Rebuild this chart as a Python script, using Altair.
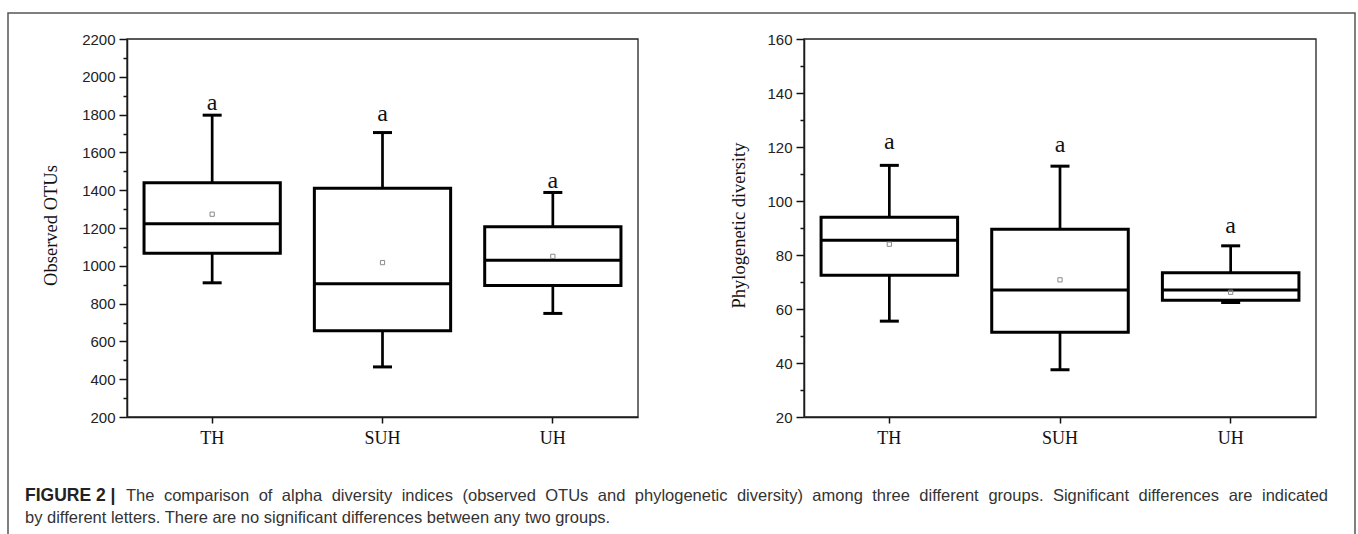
import altair as alt
import pandas as pd

groups = ["TH", "SUH", "UH"]
letters = ["a", "a", "a"]

# Observed OTUs (box statistics per group)
otu_low = [910, 465, 748]
otu_q1 = [1067, 656, 896]
otu_median = [1222, 905, 1030]
otu_q3 = [1440, 1410, 1207]
otu_high = [1797, 1705, 1388]
otu_mean = [1273, 1017, 1050]
otu_letter_at = [1860, 1805, 1450]

# Phylogenetic diversity (box statistics per group)
pdiv_low = [55.5, 37.5, 62.4]
pdiv_q1 = [72.5, 51.4, 63.2]
pdiv_median = [85.5, 67.0, 67.0]
pdiv_q3 = [94.0, 89.5, 73.4]
pdiv_high = [113.2, 112.9, 83.4]
pdiv_mean = [84.0, 70.8, 66.2]
pdiv_letter_at = [121.8, 120.8, 90.8]

otu_ticks = list(range(200, 2201, 100))
pdiv_ticks = list(range(20, 161, 10))

caption_bold = "FIGURE 2 |"
caption_line1 = ("The comparison of alpha diversity indices (observed OTUs and phylogenetic "
                 "diversity) among three different groups. Significant differences are indicated")
caption_line2 = "by different letters. There are no significant differences between any two groups."

W, H = 1358, 534
PLOT_TOP, PLOT_BOTTOM = 39, 417
SERIF = "Liberation Serif"
SANS = "Liberation Sans"
CAPTION_SIZE = 16.5

# Advance widths of Liberation Sans (Arial metrics), per 1000 em, used to justify the caption
_widths = {" ": 278, "(": 333, ")": 333, ".": 278, ",": 278, "|": 260}
_widths.update(dict(zip("abcdefghijklmnopqrstuvwxyz",
                        [556, 556, 500, 556, 556, 278, 556, 556, 222, 222, 500, 222, 833,
                         556, 556, 556, 556, 333, 500, 278, 556, 500, 722, 500, 500, 500])))
_widths.update(dict(zip("ABCDEFGHIJKLMNOPQRSTUVWXYZ",
                        [667, 667, 722, 722, 667, 611, 778, 722, 278, 500, 667, 556, 833,
                         722, 778, 667, 778, 722, 667, 611, 722, 667, 944, 667, 667, 611])))


def text_width(s, size):
    return sum(_widths.get(c, 556) for c in s) * size / 1000.0


def justified_words(line, x_start, x_end, size):
    words = line.split(" ")
    natural = [text_width(w, size) for w in words]
    gap = (x_end - x_start - sum(natural)) / (len(words) - 1)
    xs, x = [], x_start
    for w, nw in zip(words, natural):
        xs.append(x)
        x += nw + gap
    return pd.DataFrame({"word": words, "px": xs})


def panel(stats, y_domain, x_range, tick_values, major_step, title, title_x):
    df = pd.DataFrame(stats)
    xs = alt.Scale(domain=groups, range=x_range, paddingInner=0, paddingOuter=0)
    ys = alt.Scale(domain=y_domain, range=[PLOT_BOTTOM, PLOT_TOP], nice=False, zero=False)
    x_axis = alt.Axis(
        orient="bottom", offset=PLOT_BOTTOM - H, title=None, labelAngle=0,
        labelFont=SERIF, labelFontSize=18, labelColor="#111", labelPadding=6,
        tickSize=6, tickWidth=1.5, tickColor="#111", domainColor="#111",
        domainWidth=1.5, grid=False, bandPosition=0.5,
    )
    major = f"datum.value % {major_step} === 0"
    y_axis = alt.Axis(
        orient="left", offset=-x_range[0], values=tick_values, format="d",
        labelExpr=f"{major} ? datum.label : ''", labelOverlap=False, labelFlush=False,
        labelFont=SANS, labelFontSize=15, labelColor="#222", labelPadding=4,
        tickSize={"condition": {"test": major, "value": 8}, "value": 4},
        tickWidth=1.5, tickColor="#111", domainColor="#111", domainWidth=1.5,
        grid=False, title=title, titleFont=SERIF, titleFontSize=18.5,
        titleFontWeight="normal", titleColor="#111", titleAngle=-90,
        titleAlign="center", titleBaseline="middle", titleX=title_x,
        titleY=(PLOT_TOP + PLOT_BOTTOM) / 2 - 3,
    )
    base = alt.Chart(df)
    X = alt.X("group:N", scale=xs, axis=x_axis, sort=groups)

    def Y(field):
        return alt.Y(f"{field}:Q", scale=ys, axis=y_axis)

    box = base.mark_bar(
        fill="white", stroke="black", strokeWidth=3, width=alt.RelativeBandSize(0.8)
    ).encode(x=X, y=Y("q1"), y2="q3:Q")
    upper = base.mark_rule(color="black", strokeWidth=2.7).encode(x=X, y=Y("q3"), y2="high:Q")
    lower = base.mark_rule(color="black", strokeWidth=2.7).encode(x=X, y=Y("low"), y2="q1:Q")
    cap_hi = base.mark_tick(color="black", size=19, thickness=3, opacity=1).encode(x=X, y=Y("high"))
    cap_lo = base.mark_tick(color="black", size=19, thickness=3, opacity=1).encode(x=X, y=Y("low"))
    med = base.mark_tick(color="black", size=136, thickness=3, opacity=1).encode(x=X, y=Y("median"))
    mean = base.mark_point(
        shape="square", size=18, filled=False, color="#8a8a8a", strokeWidth=1, opacity=1
    ).encode(x=X, y=Y("mean"))
    lbl = base.mark_text(
        font=SERIF, fontSize=24, color="#111", baseline="middle", align="center"
    ).encode(x=X, y=Y("letter_at"), text="letter:N")
    border = alt.Chart(pd.DataFrame({"k": [0]})).mark_rect(
        filled=False, stroke="#222", strokeWidth=1.3
    ).encode(
        x=alt.value(x_range[0]), x2=alt.value(x_range[1]),
        y=alt.value(PLOT_TOP), y2=alt.value(PLOT_BOTTOM),
    )
    return alt.layer(border, box, upper, lower, cap_hi, cap_lo, med, mean, lbl)


left = panel(
    {"group": groups, "low": otu_low, "q1": otu_q1, "median": otu_median, "q3": otu_q3,
     "high": otu_high, "mean": otu_mean, "letter_at": otu_letter_at, "letter": letters},
    [200, 2200], [127, 638], otu_ticks, 200, "Observed OTUs", 50 - 127,
)
right = panel(
    {"group": groups, "low": pdiv_low, "q1": pdiv_q1, "median": pdiv_median, "q3": pdiv_q3,
     "high": pdiv_high, "mean": pdiv_mean, "letter_at": pdiv_letter_at, "letter": letters},
    [20, 160], [804, 1316], pdiv_ticks, 20, "Phylogenetic diversity", 738 - 804,
)

one = alt.Chart(pd.DataFrame({"k": [0]}))
outer = one.mark_rect(filled=False, stroke="#555", strokeWidth=1.5).encode(
    x=alt.value(8), x2=alt.value(1355), y=alt.value(13), y2=alt.value(H + 20)
)
cap_b = one.mark_text(
    font=SANS, fontSize=17.5, fontWeight="bold", color="#222",
    align="left", baseline="alphabetic",
).encode(x=alt.value(25), y=alt.value(501), text=alt.value(caption_bold))

# First caption line is justified across the frame; the last line is set ragged
line1_words = justified_words(caption_line1, 126, 1328, CAPTION_SIZE)
cap_1 = alt.Chart(line1_words).mark_text(
    font=SANS, fontSize=CAPTION_SIZE, color="#333", align="left", baseline="alphabetic"
).encode(x=alt.X("px:Q", scale=None, axis=None), y=alt.value(501), text="word:N")
cap_2 = one.mark_text(
    font=SANS, fontSize=CAPTION_SIZE, color="#333", align="left", baseline="alphabetic"
).encode(x=alt.value(25), y=alt.value(523), text=alt.value(caption_line2))

chart = alt.layer(
    left, right, outer, cap_b, cap_1, cap_2
).resolve_scale(
    x="independent", y="independent"
).properties(
    width=W, height=H, autosize=alt.AutoSizeParams(type="none"), padding=0,
    background="white",
).configure_view(stroke=None)

chart.save("out.html", embed_options={"renderer": "svg", "actions": False})
